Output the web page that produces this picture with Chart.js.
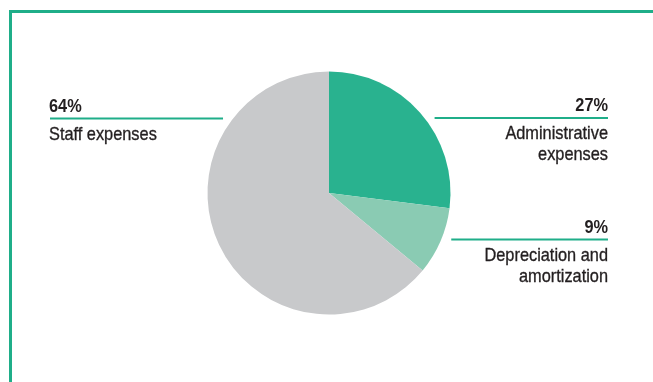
<!DOCTYPE html>
<html>
<head>
<meta charset="utf-8">
<script src="https://cdn.jsdelivr.net/npm/chart.js@4/dist/chart.umd.min.js"></script>
<style>
  html, body { margin: 0; padding: 0; background: #ffffff; }
  #wrap { position: relative; width: 653px; height: 382px; }
  canvas { display: block; }
</style>
</head>
<body>
<div id="wrap"><canvas id="c" width="653" height="382"></canvas></div>
<script>
// Cost breakdown, shares in percent (clockwise from 12 o'clock)
const categories = ['Administrative expenses', 'Depreciation and amortization', 'Staff expenses'];
const shares = [27, 9, 64];
const sliceColors = ['#29b28f', '#8acbb3', '#c8c9cb'];

// Callout text: each label split into lines, with its side of the pie
const labelLines = [['Administrative', 'expenses'], ['Depreciation and', 'amortization'], ['Staff expenses']];
const labelSide = ['right', 'right', 'left'];

const ACCENT = '#1fae89';
const INK = '#231f20';
const FONT = '"Liberation Sans", Arial, sans-serif';
const SQUEEZE = 0.86; // horizontal compression for a condensed look

function condensedText(ctx, text, x, y, align, stroke) {
  ctx.save();
  ctx.translate(x, y);
  ctx.scale(SQUEEZE, 1);
  ctx.textAlign = align;
  ctx.fillText(text, 0, 0);
  if (stroke) {
    ctx.lineWidth = stroke;
    ctx.strokeStyle = ctx.fillStyle;
    ctx.strokeText(text, 0, 0);
  }
  ctx.restore();
}

// Frame (top + left rule) and the callouts next to the slices
const calloutPlugin = {
  id: 'callouts',
  afterDraw(chart) {
    const ctx = chart.ctx;
    ctx.save();
    // open frame
    ctx.fillStyle = ACCENT;
    ctx.fillRect(9, 10, 653 - 9, 3);
    ctx.fillRect(9, 10, 3, 382 - 10);

    const meta = chart.getDatasetMeta(0);
    const rightX = 608;
    const leftX = 49;
    const ruleYs = [118, 239.5, 118.5];
    const gap = 10;
    meta.data.forEach((arc, i) => {
      const side = labelSide[i];
      const ruleY = ruleYs[i];
      const dy = ruleY - arc.y;
      const dx = Math.sqrt(Math.max(0, arc.outerRadius * arc.outerRadius - dy * dy));
      let x0, x1;
      if (side === 'right') {
        x0 = arc.x + dx + gap;
        x1 = rightX;
      } else {
        x0 = leftX + 1;
        x1 = arc.x - dx - gap;
      }
      ctx.fillStyle = ACCENT;
      ctx.fillRect(x0, ruleY - 1, x1 - x0, 2);

      // percentage above the rule, category name below it
      ctx.fillStyle = INK;
      ctx.textBaseline = 'alphabetic';
      const align = side === 'right' ? 'right' : 'left';
      const tx = side === 'right' ? rightX : leftX;
      ctx.font = 'bold 19px ' + FONT;
      condensedText(ctx, shares[i] + '%', tx, ruleY - 6.6, align, 0);
      ctx.font = '19px ' + FONT;
      labelLines[i].forEach((line, k) => {
        condensedText(ctx, line, tx, ruleY + 21 + k * 21, align, 0.35);
      });
    });
    ctx.restore();
  }
};

new Chart(document.getElementById('c'), {
  type: 'pie',
  data: {
    labels: categories,
    datasets: [{
      data: shares,
      backgroundColor: sliceColors,
      borderWidth: 0,
      hoverOffset: 0
    }]
  },
  options: {
    responsive: false,
    animation: false,
    events: [],
    layout: { padding: { top: 71.5, bottom: 67.5, left: 207.5, right: 202.5 } },
    plugins: {
      legend: { display: false },
      tooltip: { enabled: false }
    }
  },
  plugins: [calloutPlugin]
});
</script>
</body>
</html>
